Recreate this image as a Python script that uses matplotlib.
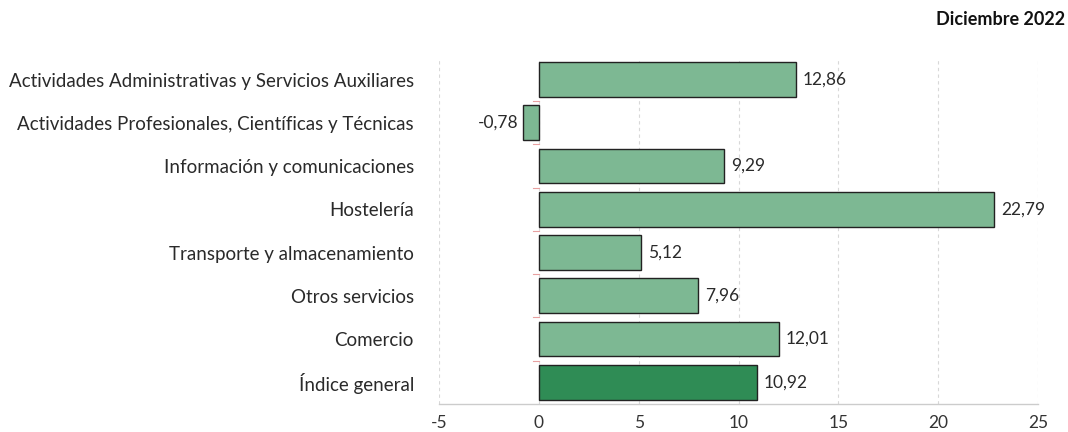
import matplotlib
matplotlib.use("Agg")
import matplotlib.pyplot as plt

categories = [
    "Actividades Administrativas y Servicios Auxiliares",
    "Actividades Profesionales, Científicas y Técnicas",
    "Información y comunicaciones",
    "Hostelería",
    "Transporte y almacenamiento",
    "Otros servicios",
    "Comercio",
    "Índice general",
]
values = [12.86, -0.78, 9.29, 22.79, 5.12, 7.96, 12.01, 10.92]
value_labels = ["12,86", "-0,78", "9,29", "22,79", "5,12", "7,96", "12,01", "10,92"]
x_ticks = [-5, 0, 5, 10, 15, 20, 25]
title = "Diciembre 2022"

plt.rcParams['font.family'] = ['Lato', 'DejaVu Sans']

fig = plt.figure(figsize=(10.68, 4.32), dpi=100)
ax = fig.add_axes([0.411, 0.065, 0.561, 0.801])

light = "#7db893"
dark = "#2f8c55"
colors = [light] * (len(values) - 1) + [dark]
ypos = list(range(len(categories)))
ax.barh(ypos, values, height=0.8, color=colors, edgecolor="#222222", linewidth=1.0, zorder=3)

for y, v, lab in zip(ypos, values, value_labels):
    if v >= 0:
        ax.text(v + 0.35, y, lab, va="center", ha="left", fontsize=12.5, color="#2a2a2a", zorder=4)
    else:
        ax.text(v - 0.25, y, lab, va="center", ha="right", fontsize=12.5, color="#2a2a2a", zorder=4)

ax.set_xlim(-5, 25)
ax.set_ylim(len(categories) - 0.5, -0.5)
ax.set_xticks(x_ticks)
ax.set_xticklabels([str(t) for t in x_ticks], fontsize=12.5, color="#333333")
ax.set_yticks(ypos)
ax.set_yticklabels(categories, fontsize=13.5, color="#2a2a2a")
ax.tick_params(axis="y", length=0, pad=18)
ax.tick_params(axis="x", length=0, pad=8)

ax.grid(axis="x", linestyle=(0, (3, 3)), color="#d8d8d8", linewidth=0.8, zorder=0)
for s in ["top", "right", "left"]:
    ax.spines[s].set_visible(False)
ax.spines["bottom"].set_color("#cccccc")
ax.spines["bottom"].set_linewidth(1.0)

# small ticks on zero line between categories
for b in [i + 0.5 for i in range(len(categories) - 1)]:
    ax.plot([-0.3, 0], [b, b], color="#e8a0a0", linewidth=0.8, zorder=2)

fig.text(0.997, 0.955, title, ha="right", va="center", fontsize=13, fontweight="bold", color="#111111")

fig.savefig("out.png", dpi=100)
